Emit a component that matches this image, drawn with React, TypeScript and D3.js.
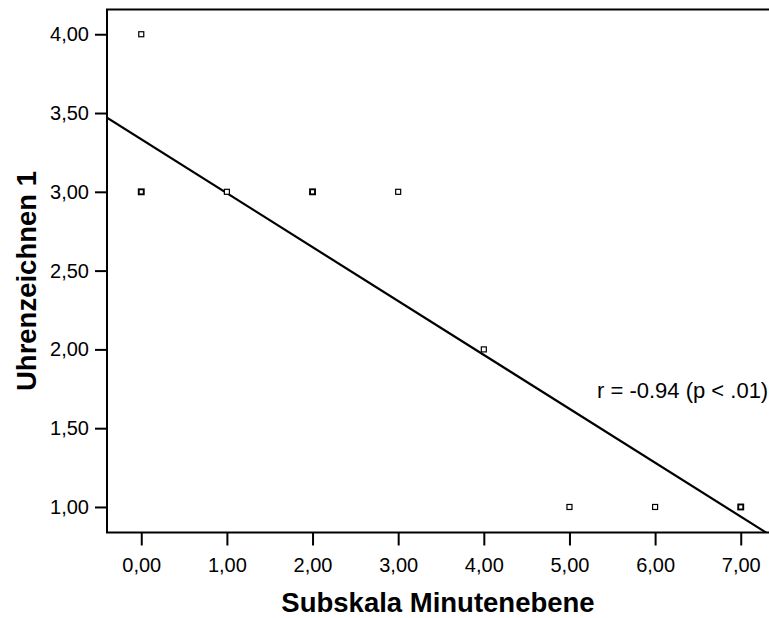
import React, { useRef, useEffect } from "react";
import * as d3 from "d3";

// values
const xValues = [0, 0, 1, 2, 3, 4, 5, 6, 7];
const yValues = [4, 3, 3, 3, 3, 2, 1, 1, 1];
const overlaps = [1, 2, 1, 2, 1, 1, 1, 1, 2]; // cases stacked on one spot (drawn bolder)
const xTicks = [0, 1, 2, 3, 4, 5, 6, 7];
const yTicks = [1, 1.5, 2, 2.5, 3, 3.5, 4];
const fitIntercept = 3.333;
const fitSlope = -0.342;
const xTitle = "Subskala Minutenebene";
const yTitle = "Uhrenzeichnen 1";
const note = "r = -0.94 (p < .01)";

const App = () => {
  const ref = useRef<SVGSVGElement | null>(null);

  useEffect(() => {
    const width = 769;
    const height = 618;
    const left = 107;
    const top = 9.5;
    const bottom = 532.5;
    const font = "'Liberation Sans', Arial, Helvetica, sans-serif";

    const svg = d3.select(ref.current);
    svg.selectAll("*").remove();

    const x = d3.scaleLinear().domain([-0.4, 7.33]).range([left, width]);
    const y = d3.scaleLinear().domain([0.838, 4.157]).range([bottom, top]);
    const fmt = (d: number) => d3.format(".2f")(d).replace(".", ",");

    // frame (left, top, bottom)
    svg
      .append("path")
      .attr("d", `M${width + 2},${top}H${left}V${bottom}H${width + 2}`)
      .attr("fill", "none")
      .attr("stroke", "#000")
      .attr("stroke-width", 2);

    // axes
    const gx = svg
      .append("g")
      .attr("transform", `translate(0,${bottom})`)
      .call(
        d3.axisBottom(x).tickValues(xTicks).tickSize(13).tickSizeOuter(0).tickPadding(12).tickFormat(fmt as any)
      );
    const gy = svg
      .append("g")
      .attr("transform", `translate(${left},0)`)
      .call(
        d3.axisLeft(y).tickValues(yTicks).tickSize(12).tickSizeOuter(0).tickPadding(6).tickFormat(fmt as any)
      );
    [gx, gy].forEach((g) => {
      g.select(".domain").remove();
      g.selectAll(".tick line").attr("stroke", "#000").attr("stroke-width", 2);
      g.selectAll(".tick text")
        .attr("fill", "#000")
        .style("font-family", font)
        .style("font-size", "20px");
    });

    // regression line
    const clipId = "plot-clip";
    svg
      .append("clipPath")
      .attr("id", clipId)
      .append("rect")
      .attr("x", left)
      .attr("y", top)
      .attr("width", width - left)
      .attr("height", bottom - top);
    const xs = x.domain();
    svg
      .append("line")
      .attr("clip-path", `url(#${clipId})`)
      .attr("x1", x(xs[0]))
      .attr("y1", y(fitIntercept + fitSlope * xs[0]))
      .attr("x2", x(xs[1]))
      .attr("y2", y(fitIntercept + fitSlope * xs[1]))
      .attr("stroke", "#000")
      .attr("stroke-width", 2.2);

    // points
    svg
      .append("g")
      .selectAll("rect")
      .data(xValues.map((v, i) => ({ x: v, y: yValues[i], n: overlaps[i] })))
      .enter()
      .append("rect")
      .attr("x", (d) => x(d.x) - 2.5)
      .attr("y", (d) => y(d.y) - 2.5)
      .attr("width", 5)
      .attr("height", 5)
      .attr("fill", "#fff")
      .attr("stroke", "#000")
      .attr("stroke-width", (d) => (d.n > 1 ? 1.9 : 1.2));

    // annotation
    svg
      .append("text")
      .attr("x", 597)
      .attr("y", 398)
      .style("font-family", font)
      .style("font-size", "22px")
      .text(note);

    // axis titles
    svg
      .append("text")
      .attr("x", (left + width) / 2)
      .attr("y", 612)
      .attr("text-anchor", "middle")
      .style("font-family", font)
      .style("font-size", "27.5px")
      .style("font-weight", "bold")
      .text(xTitle);
    svg
      .append("text")
      .attr("transform", `translate(36,${281}) rotate(-90)`)
      .attr("text-anchor", "middle")
      .style("font-family", font)
      .style("font-size", "27.5px")
      .style("font-weight", "bold")
      .text(yTitle);
  }, []);

  return (
    <div style={{ position: "absolute", left: 0, top: 0, width: 769, height: 618, background: "#fff" }}>
      <svg ref={ref} width={769} height={618} style={{ display: "block" }} />
    </div>
  );
};

export default App;
